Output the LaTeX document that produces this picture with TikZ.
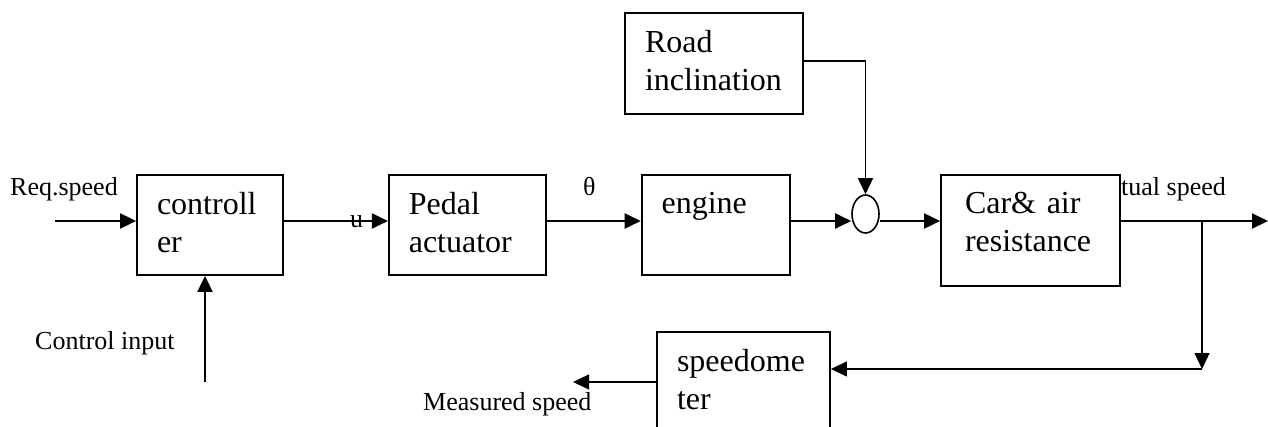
\documentclass[tikz,border=0pt]{standalone}
\usepackage{fontspec}
\setmainfont{Liberation Serif}
\usepackage{tikz}
\usetikzlibrary{shapes.geometric, arrows.meta, positioning, calc}

\newcommand{\blkfont}{\fontsize{32}{38}\selectfont}
\newcommand{\lblfont}{\fontsize{26}{30}\selectfont}

\begin{document}
\begin{tikzpicture}[
  x=1pt, y=-1pt,
  block/.style={rectangle, draw=black, line width=1.8pt, fill=white, align=left, inner xsep=20pt, inner ysep=0pt, text depth=44pt, font=\blkfont},
  sumnode/.style={ellipse, draw=black, line width=1.6pt, minimum width=27pt, minimum height=38pt, inner sep=0pt},
  lbl/.style={anchor=base west, inner sep=0pt, font=\lblfont},
  line/.style={draw=black, line width=2pt, -{Triangle[length=16pt, width=15pt]}},
  thinline/.style={draw=black, line width=1.3pt, -{Triangle[length=16pt, width=15pt]}}
]
  \useasboundingbox (0,0) rectangle (1268,426);
  \coordinate (lvl) at (0,221);

  % blocks
  \node[block, text width=106pt, minimum height=100pt] (ctrl) at (210,225) {controll\\er};
  \node[block, text width=117pt, minimum height=100pt, right=104pt of ctrl] (pedal) {Pedal\\actuator};
  \node[block, text width=108pt, minimum height=100pt, right=94pt of pedal] (engine) {engine};
  \node[sumnode] (sum) at (865.5,214) {};
  \node[block, text width=131pt, inner xsep=24pt, minimum height=111pt, text depth=55pt] (car) at (1030.5,230.5) {Car\& air\\resistance};
  \node[block, text width=138pt, minimum height=101pt] (road) at (714,63.5) {Road\\inclination};
  \node[block, text width=133pt, minimum height=100pt] (speedo) at (743.5,382) {speedome\\ter};

  % end points
  \coordinate (reqin) at (55,221);
  \coordinate (outend) at (1268,221);
  \coordinate (br) at (1202,221);
  \coordinate (fb) at (1202,369);
  \coordinate (measend) at (573,382);
  \coordinate (cin) at (205,382);

  % connectors
  \path[line] (reqin) -- (ctrl.west |- lvl);
  \path[line] (ctrl.east |- lvl) -- (pedal.west |- lvl);
  \path[line] (pedal.east |- lvl) -- (engine.west |- lvl);
  \path[line] (engine.east |- lvl) -- (sum.west |- lvl);
  \path[line] (sum.east |- lvl) -- (car.west |- lvl);
  \path[line] (car.east |- lvl) -- (outend);
  \path[thinline] ([yshift=2.5pt]road.east) -| (sum.north);
  \path[thinline] (br) -- (fb);
  \path[thinline] (fb) -- (speedo.east |- fb);
  \path[thinline] (speedo.west |- measend) -- (measend);
  \path[line] (cin) -- (cin |- ctrl.south);

  % labels
  \node[lbl] (reqlbl) at (10,195) {Req.speed};
  \node[lbl] (ulbl) at (350,227) {u};
  \node[lbl] (thetalbl) at (583,195) {θ};
  \node[lbl] (actlbl) at (1121,195) {tual speed};
  \node[lbl] (cinlbl) at (35,349) {Control input};
  \node[lbl] (measlbl) at (423,410) {Measured speed};
\end{tikzpicture}
\end{document}
